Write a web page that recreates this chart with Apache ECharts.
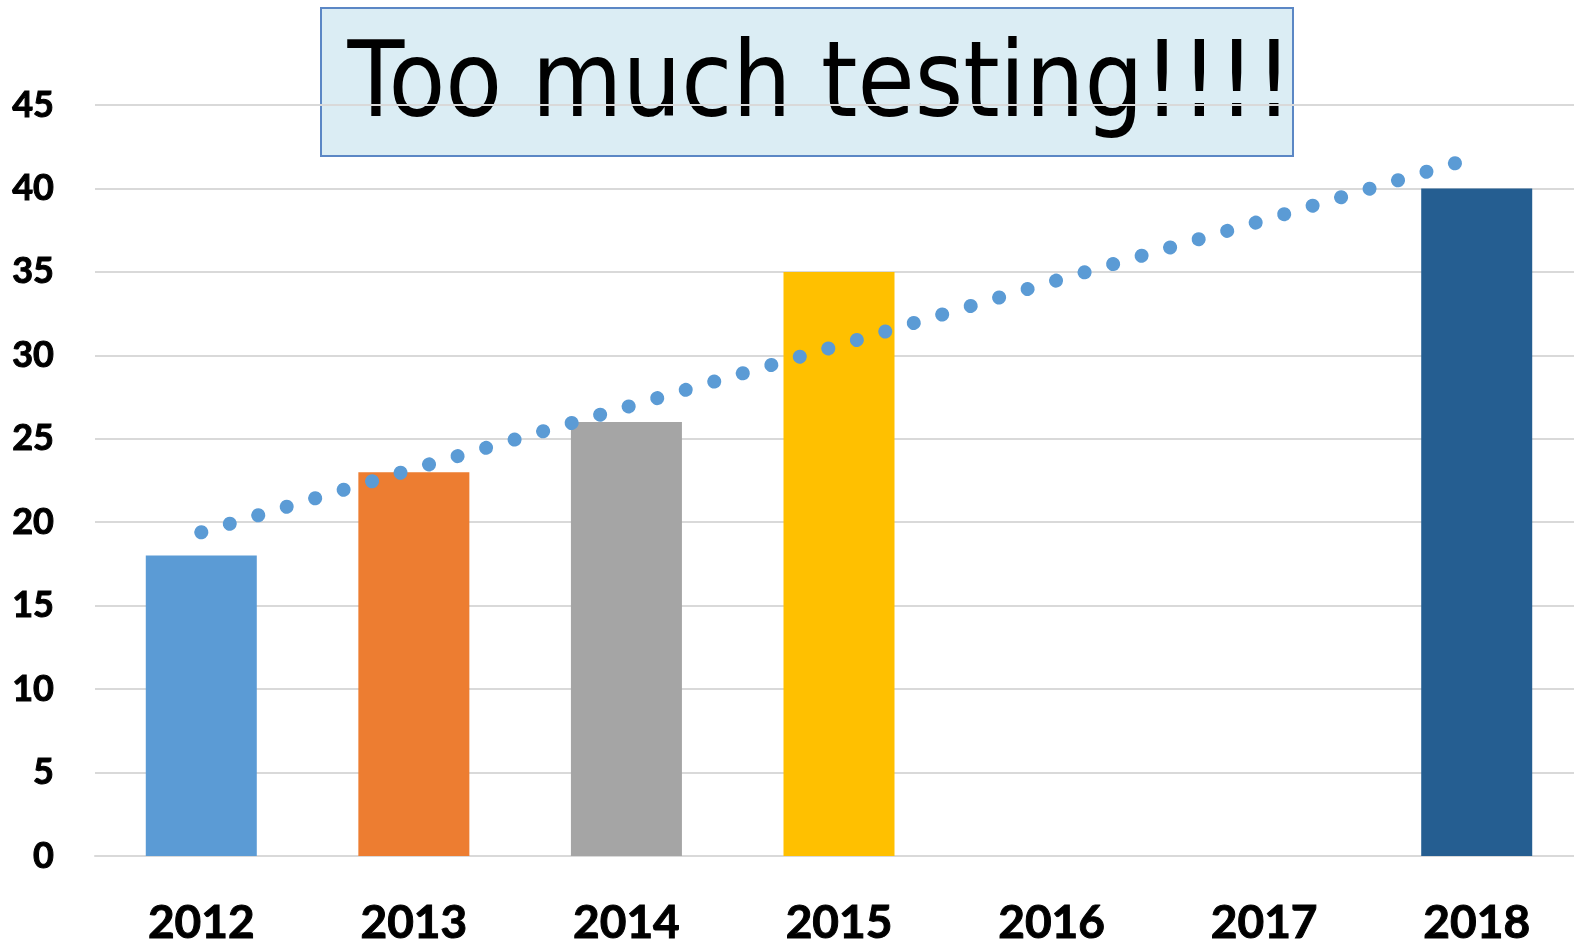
<!DOCTYPE html>
<html>
<head>
<meta charset="utf-8">
<script src="https://cdn.jsdelivr.net/npm/echarts@6/dist/echarts.min.js"></script>
<style>
html, body { margin: 0; padding: 0; background: #fff; overflow: hidden; }
#chart { width: 1583px; height: 947px; }
</style>
</head>
<body>
<div id="chart"></div>
<script>
const years = ['2012', '2013', '2014', '2015', '2016', '2017', '2018']
const testCounts = [18, 23, 26, 35, null, null, 40]
const trendValues = [19.4, 23.2, 26.9, 30.6, 34.4, 38.1, 41.9]
const yTicks = [0, 45, 5]  // min, max, interval
const titleText = 'Too much testing!!!!'

const barColors = ['#5B9BD5', '#ED7D31', '#A5A5A5', '#FFC000', '#4472C4', '#70AD47', '#255E91']

const chart = echarts.init(document.getElementById('chart'))

const labelFont = {
    color: '#000',
    fontFamily: 'Lato',
    fontWeight: 'bold',
    textBorderColor: '#000',
    textBorderWidth: 1
}

const option = {
    animation: false,
    grid: {
        left: 95,
        right: 0,
        top: 105,
        bottom: 91,
        containLabel: false
    },
    graphic: [
        {
            type: 'group',
            z: 100,
            children: [
                {
                    type: 'rect',
                    shape: { x: 321, y: 8, width: 972, height: 148 },
                    style: { fill: '#DBEDF4', stroke: '#5B87C5', lineWidth: 2 }
                },
                {
                    type: 'text',
                    x: 820,
                    y: 89,
                    scaleY: 1.13,
                    style: {
                        text: titleText,
                        fontFamily: 'DejaVu Sans',
                        fontSize: 93,
                        fill: '#000',
                        align: 'center',
                        verticalAlign: 'middle'
                    }
                }
            ]
        }
    ],
    xAxis: {
        type: 'category',
        data: years,
        axisTick: { show: false },
        axisLine: { lineStyle: { color: '#D9D9D9', width: 2 } },
        axisLabel: Object.assign({ fontSize: 46, margin: 44 }, labelFont)
    },
    yAxis: {
        type: 'value',
        min: yTicks[0],
        max: yTicks[1],
        interval: yTicks[2],
        axisLine: { show: false },
        axisTick: { show: false },
        splitLine: { lineStyle: { color: '#D9D9D9', width: 2 } },
        axisLabel: Object.assign({ fontSize: 36, margin: 41 }, labelFont)
    },
    series: [
        {
            name: 'Tests',
            type: 'bar',
            barWidth: 111,
            data: testCounts.map((v, i) => ({
                value: v,
                itemStyle: { color: barColors[i] }
            }))
        },
        {
            name: 'Trend',
            type: 'line',
            data: trendValues,
            symbol: 'none',
            z: 5,
            lineStyle: {
                color: '#5B9BD5',
                width: 14,
                type: [0.1, 29.6],
                cap: 'round'
            }
        }
    ]
}

chart.setOption(option)
</script>
</body>
</html>
